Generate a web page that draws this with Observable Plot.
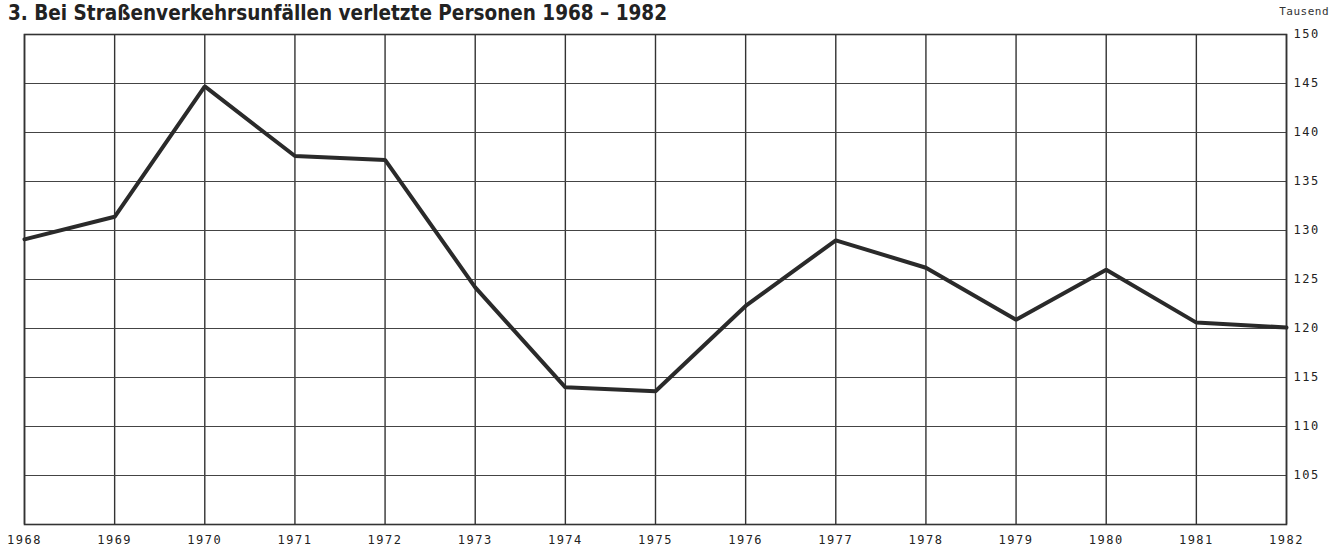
<!DOCTYPE html>
<html>
<head>
<meta charset="utf-8">
<script src="https://cdn.jsdelivr.net/npm/d3@7"></script>
<script src="https://cdn.jsdelivr.net/npm/@observablehq/plot@0.6"></script>
<style>
  html, body { margin: 0; padding: 0; background: #fff; }
  #wrap { position: relative; width: 1332px; height: 548px; overflow: hidden; background: #fff; }
  #chart { position: absolute; left: 0; top: 20px; }
  #title { position: absolute; left: 8px; top: 1px; font-family: "Liberation Sans Narrow", "DejaVu Sans Condensed", "Liberation Sans", sans-serif; font-weight: bold; font-size: 20.5px; color: #222; white-space: nowrap; }
  #unit { position: absolute; right: 3px; top: 5px; font-family: "DejaVu Sans Mono", monospace; font-size: 11px; letter-spacing: 0.5px; color: #333; }
</style>
</head>
<body>
<div id="wrap">
  <div id="chart"></div>
  <div id="title">3. Bei Straßenverkehrsunfällen verletzte Personen 1968 – 1982</div>
  <div id="unit">Tausend</div>
</div>
<script>
const years = [1968, 1969, 1970, 1971, 1972, 1973, 1974, 1975, 1976, 1977, 1978, 1979, 1980, 1981, 1982];
const injured = [129.1, 131.4, 144.7, 137.6, 137.2, 124.2, 114.0, 113.6, 122.3, 129.0, 126.2, 120.9, 126.0, 120.6, 120.1];
const yTicks = [105, 110, 115, 120, 125, 130, 135, 140, 145, 150];

const data = years.map((y, i) => ({year: y, value: injured[i]}));

const chart = Plot.plot({
  width: 1332,
  height: 528,
  marginLeft: 24,
  marginRight: 46,
  marginTop: 14,
  marginBottom: 24,
  style: {fontFamily: "'DejaVu Sans Mono', monospace", fontSize: "12px", letterSpacing: "1.5px", color: "#222", background: "none"},
  x: {domain: [1968, 1982], ticks: years, tickFormat: d => String(d), tickSize: 0, tickPadding: 11, label: null},
  y: {domain: [100, 150], ticks: yTicks, tickSize: 0, tickPadding: 7, label: null, axis: "right"},
  marks: [
    Plot.ruleX(years, {stroke: "#333", strokeWidth: 1.4}),
    Plot.ruleY(yTicks, {stroke: "#444", strokeWidth: 1.2}),
    Plot.frame({stroke: "#333", strokeWidth: 1.6}),
    Plot.line(data, {x: "year", y: "value", stroke: "#2a2a2a", strokeWidth: 4, strokeLinejoin: "miter"})
  ]
});
document.getElementById("chart").appendChild(chart);
</script>
</body>
</html>
